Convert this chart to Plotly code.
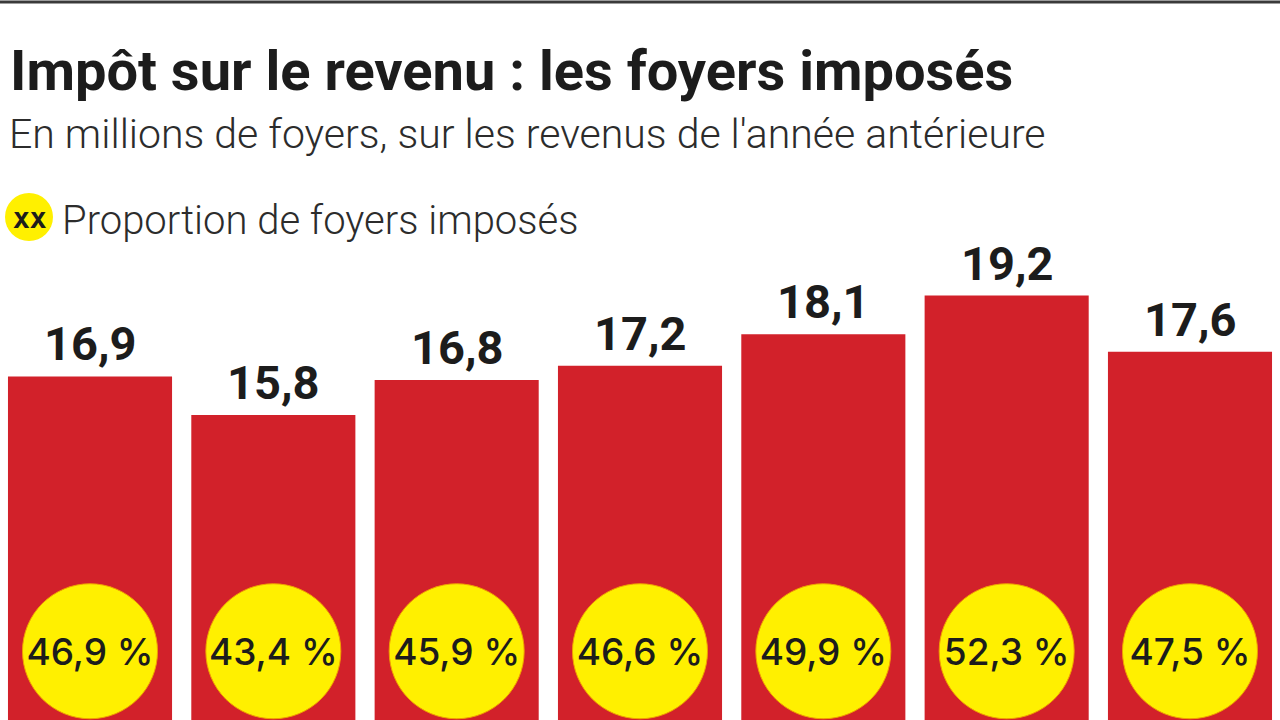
import plotly.graph_objects as go

categories = ["A", "B", "C", "D", "E", "F", "G"]
foyers = [16.9, 15.8, 16.8, 17.2, 18.1, 19.2, 17.6]
proportions = [46.9, 43.4, 45.9, 46.6, 49.9, 52.3, 47.5]

RED = "#d2212a"
YELLOW = "#fff000"
DARK = "#1c1c1c"

def fr(v):
    return f"{v:.1f}".replace(".", ",")

W, H = 1280, 720
Y_LOW, Y_HIGH = 7.124, 27.608
CIRCLE_Y = 9.08
CIRCLE_TEXT_Y = 8.95

fig = go.Figure()
fig.add_trace(go.Bar(
    x=categories, y=foyers, marker=dict(color=RED, line=dict(width=0)),
    hoverinfo="skip", showlegend=False,
))
fig.add_trace(go.Scatter(
    x=categories, y=[CIRCLE_Y] * len(categories), mode="markers",
    marker=dict(size=135, color=YELLOW, line=dict(width=1, color="#f0a000")),
    hoverinfo="skip", showlegend=False, cliponaxis=False,
))
fig.add_trace(go.Scatter(
    x=categories, y=[CIRCLE_TEXT_Y] * len(categories), mode="text",
    text=[fr(p) + " %" for p in proportions],
    textposition="middle center",
    textfont=dict(family="Inter", size=37, color=DARK, weight=500),
    hoverinfo="skip", showlegend=False, cliponaxis=False,
))

annotations = []
for c, v in zip(categories, foyers):
    annotations.append(dict(
        x=c, y=v, xref="x", yref="y", text=fr(v), showarrow=False,
        yanchor="bottom", yshift=3,
        font=dict(family="Roboto", size=47, color=DARK, weight=700),
    ))

annotations += [
    dict(x=8 / W, y=1 - 71 / H, xref="paper", yref="paper", xanchor="left", yanchor="middle",
         text="Impôt sur le revenu : les foyers imposés", showarrow=False,
         font=dict(family="Roboto", size=56, color=DARK, weight=700)),
    dict(x=7 / W, y=1 - 134 / H, xref="paper", yref="paper", xanchor="left", yanchor="middle",
         text="En millions de foyers, sur les revenus de l'année antérieure", showarrow=False,
         font=dict(family="Roboto", size=41, color="#2c2c2c", weight=300)),
    dict(x=60 / W, y=1 - 220 / H, xref="paper", yref="paper", xanchor="left", yanchor="middle",
         text="Proportion de foyers imposés", showarrow=False,
         font=dict(family="Roboto", size=40, color="#2c2c2c", weight=300)),
    dict(x=30 / W, y=1 - 220 / H, xref="paper", yref="paper", xanchor="center", yanchor="middle",
         text="XX", showarrow=False,
         font=dict(family="Inter", size=22, color=DARK, weight=800)),
]

shapes = [
    dict(type="circle", xref="paper", yref="paper",
         x0=5 / W, x1=53 / W, y0=1 - 241 / H, y1=1 - 193 / H,
         fillcolor=YELLOW, line=dict(width=0), layer="below"),
    dict(type="line", xref="paper", yref="paper", x0=0, x1=1, y0=1 - 2 / H, y1=1 - 2 / H,
         line=dict(color="#3a3a3a", width=3)),
]

fig.update_layout(
    width=W, height=H,
    margin=dict(l=0, r=0, t=0, b=0),
    paper_bgcolor="white", plot_bgcolor="white",
    bargap=0.105,
    xaxis=dict(range=[-0.491, 6.491], visible=False, fixedrange=True),
    yaxis=dict(range=[Y_LOW, Y_HIGH], visible=False, fixedrange=True),
    annotations=annotations, shapes=shapes,
    showlegend=False,
)

fig.write_html("out.html", config={"displayModeBar": False},
               post_script="document.body.style.margin='0';")
